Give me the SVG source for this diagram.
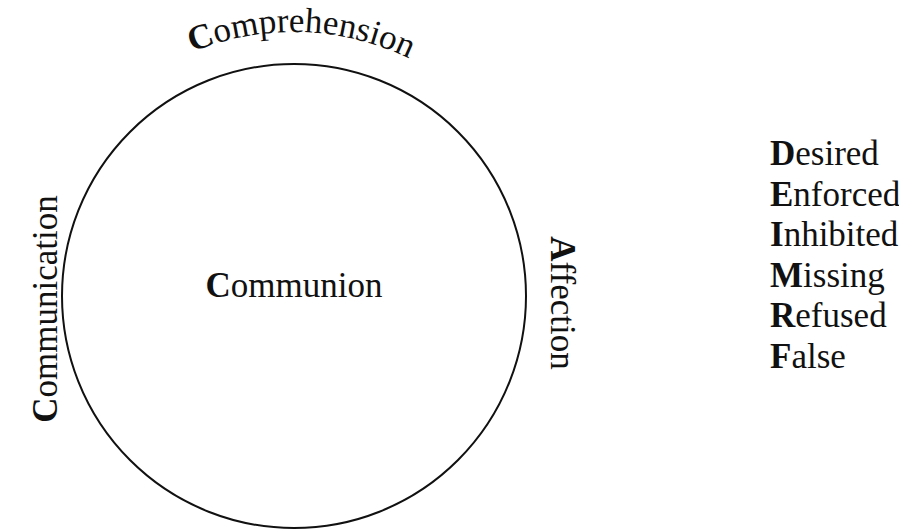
<svg xmlns="http://www.w3.org/2000/svg" xmlns:xlink="http://www.w3.org/1999/xlink" width="899" height="532" viewBox="0 0 899 532">
<style>
text{font-family:"Liberation Serif","Times New Roman",serif;font-size:35px;fill:#111}
.b{font-weight:bold}
.ring{fill:none;stroke:#111;stroke-width:2}
</style>
<defs>
<path id="arcTop" d="M 30,296 A 264,264 0 0 1 558,296"/>
</defs>
<rect width="899" height="532" fill="#fff"/>
<g id="communion">
<circle class="ring" cx="294" cy="296" r="232"/>
<text x="294" y="297" text-anchor="middle"><tspan class="b">C</tspan>ommunion</text>
</g>
<g id="comprehension">
<text><textPath xlink:href="#arcTop" href="#arcTop" startOffset="50.9%" text-anchor="middle"><tspan class="b">C</tspan>omprehension</textPath></text>
</g>
<g id="communication">
<text transform="translate(57,309) rotate(-90)" text-anchor="middle"><tspan class="b">C</tspan>ommunication</text>
</g>
<g id="affection">
<text transform="translate(551,303) rotate(90)" text-anchor="middle"><tspan class="b">A</tspan>ffection</text>
</g>
<g id="legend">
<text x="770" y="165"><tspan class="b">D</tspan>esired</text>
<text x="770" y="206"><tspan class="b">E</tspan>nforced</text>
<text x="770" y="246"><tspan class="b">I</tspan>nhibited</text>
<text x="770" y="287"><tspan class="b">M</tspan>issing</text>
<text x="770" y="327"><tspan class="b">R</tspan>efused</text>
<text x="770" y="368"><tspan class="b">F</tspan>alse</text>
</g>
<g id="connectors"></g>
</svg>
